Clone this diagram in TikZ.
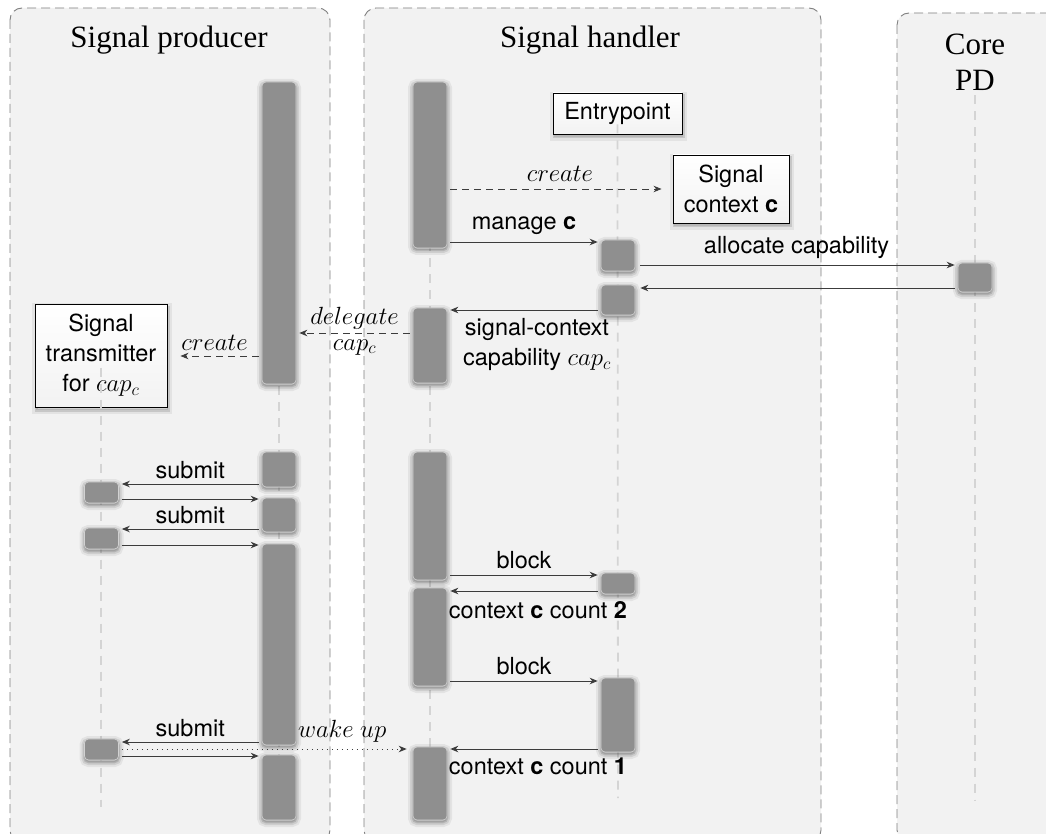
\documentclass[tikz,border=0pt]{standalone}
\usepackage{fontspec}
\setsansfont{TeX Gyre Heros}
\newfontfamily\titlefont{Liberation Serif}
\usetikzlibrary{shadows,arrows.meta,calc}

\definecolor{lanefill}{HTML}{F2F2F2}
\definecolor{laneline}{HTML}{808080}
\definecolor{barfill}{HTML}{8F8F8F}
\definecolor{arrowc}{HTML}{3C3C3C}
\definecolor{lifec}{HTML}{D4D4D4}

\tikzset{
  lane/.style={fill=lanefill, draw=laneline, dash pattern=on 9pt off 5pt, line width=0.9pt, rounded corners=12pt},
  lifeline/.style={draw=lifec, line width=1.8pt, dash pattern=on 9pt off 7pt},
  actbar/.style={rectangle, rounded corners=4pt, fill=barfill, draw=gray!35, line width=0.6pt,
     minimum width=34pt, inner sep=0pt,
     drop shadow={opacity=0.06, shadow xshift=0pt, shadow yshift=-2pt, draw=black, line width=10pt},
     drop shadow={opacity=0.09, shadow xshift=0pt, shadow yshift=-2pt, draw=black, line width=6pt},
     drop shadow={opacity=0.12, shadow xshift=0pt, shadow yshift=-2pt, draw=black, line width=2.5pt}},
  lbl/.style={font=\sffamily\fontsize{23.5}{30}\selectfont, inner sep=2pt},
  objbox/.style={lbl, rectangle, draw=black, line width=0.9pt, top color=white, bottom color=gray!10,
     align=center, inner sep=4pt,
     drop shadow={opacity=0.06, shadow xshift=1pt, shadow yshift=-3pt, draw=black, line width=8pt},
     drop shadow={opacity=0.12, shadow xshift=1pt, shadow yshift=-3pt, draw=black, line width=3pt}},
  msg/.style={draw=arrowc, line width=0.9pt, shorten <=3pt, shorten >=3pt,
     -{Stealth[length=8pt,width=6.5pt,inset=2.5pt]}},
  msgdash/.style={msg, dash pattern=on 7pt off 5pt},
  msgdot/.style={msg, dash pattern=on 1pt off 4pt},
  title/.style={font=\titlefont\fontsize{31}{36}\selectfont, align=center, inner sep=0pt},
}

\begin{document}
\begin{tikzpicture}[x=1pt,y=-1pt]
\useasboundingbox (0,0) rectangle (1046,834);
\clip (0,0) rectangle (1046,834);
\fill[white] (0,0) rectangle (1046,834);

% lanes
\draw[lane] (10,8) rectangle (330,842);
\draw[lane] (364,8) rectangle (821,842);
\draw[lane] (897,13) rectangle (1075,842);

% titles
\node[title] (tprod) at (169,40) {Signal producer};
\node[title] (thand) at (590,40) {Signal handler};
\node[title] (tcore) at (975,62) {Core\\PD};

% object boxes
\node[objbox, minimum width=129pt, minimum height=41pt] (entry) at (617.5,113.5) {Entrypoint};
\node[objbox, minimum width=116pt, minimum height=68pt] (ctx) at (731,189) {Signal\\context \textbf{c}};
\node[objbox, minimum width=132pt, minimum height=103pt] (tx) at (101,355.5) {Signal\\transmitter\\for $cap_c$};

% lifeline ends
\coordinate (lbB) at (279,808);
\coordinate (ltB) at (279,82);
\coordinate (lbC) at (430,808);
\coordinate (ltC) at (430,82);
\coordinate (lbA) at (101,807);
\coordinate (lbD) at (618,798);
\coordinate (lbE) at (975,800);

\draw[lifeline] ([yshift=-12pt]tx.center) -- (lbA);
\draw[lifeline] (ltB) -- (lbB);
\draw[lifeline] (ltC) -- (lbC);
\draw[lifeline] ([yshift=-11pt]entry.center) -- (lbD);
\draw[lifeline] ([yshift=-5pt]tcore.south) -- (lbE);

% activation bars
\node[actbar, minimum height=302pt] (B0) at (279,233) {};
\node[actbar, minimum height=35pt] (B1) at (279,469.5) {};
\node[actbar, minimum height=34pt] (B2) at (279,515) {};
\node[actbar, minimum height=201pt] (B3) at (279,644.5) {};
\node[actbar, minimum height=65pt] (B4) at (279,787.5) {};
\node[actbar, minimum height=21pt] (A1) at (101.5,492.5) {};
\node[actbar, minimum height=21pt] (A2) at (101.5,538.5) {};
\node[actbar, minimum height=21pt] (A3) at (101.5,749.5) {};
\node[actbar, minimum height=166pt] (C0) at (430,165) {};
\node[actbar, minimum height=75pt] (C1) at (430,345.5) {};
\node[actbar, minimum height=128pt] (C2) at (430,516) {};
\node[actbar, minimum height=98pt] (C3) at (430,637) {};
\node[actbar, minimum height=73pt] (C4) at (430,783.5) {};
\node[actbar, minimum height=31pt] (D1) at (618,255.5) {};
\node[actbar, minimum height=30pt] (D2) at (618,300) {};
\node[actbar, minimum height=21pt] (D3) at (618,583.5) {};
\node[actbar, minimum height=74pt] (D4) at (618,715) {};
\node[actbar, minimum height=29pt] (E1) at (975,277.5) {};

% message levels
\foreach \n/\yy in {ycr/189, ymg/242, yal/265, yrt/288, ysc/310, ydl/333, ycl/356,
  ys1/484, yr1/499, ys2/529, yr2/545, ys3/742, yr3/756, ywk/749,
  yb1/575, yc2/591, yb2/681, yc1/749}
  \coordinate (\n) at (0,\yy);

% messages
\draw[msgdash, shorten >=11pt] (C0.east |- ycr) -- node[lbl, above=5pt] {$create$} (ctx.west |- ycr);
\draw[msg] (C0.east |- ymg) -- node[lbl, above=5pt] {manage \textbf{c}} (D1.west |- ymg);
\draw[msg, shorten <=5pt] (D1.east |- yal) -- node[lbl, above=4pt] {allocate capability} (E1.west |- yal);
\draw[msg, shorten >=5pt] (E1.west |- yrt) -- (D2.east |- yrt);
\draw[msg] (D2.west |- ysc) -- node[lbl, below=6pt, xshift=13pt, align=center] {signal-context\\capability $cap_c$} (C1.east |- ysc);
\draw[msgdash] (C1.west |- ydl) -- node[lbl, above=1pt] {$delegate$} node[lbl, below=4pt] {$cap_c$} (B0.east |- ydl);
\draw[msgdash, shorten >=13pt] (B0.west |- ycl) -- node[lbl, above=3pt] {$create$} (tx.east |- ycl);

\draw[msg] (B1.west |- ys1) -- node[lbl, above=3pt] {submit} (A1.east |- ys1);
\draw[msg] (A1.east |- yr1) -- (B2.west |- yr1);
\draw[msg] (B2.west |- ys2) -- node[lbl, above=3pt] {submit} (A2.east |- ys2);
\draw[msg] (A2.east |- yr2) -- (B3.west |- yr2);
\draw[msg] (B3.west |- ys3) -- node[lbl, above=3pt] {submit} (A3.east |- ys3);
\draw[msg] (A3.east |- yr3) -- (B4.west |- yr3);
\draw[msgdot, shorten >=6pt] (A3.east |- ywk) -- node[lbl, above=4pt, pos=0.76] {$wake\ up$} (C4.west |- ywk);

\draw[msg] (C2.east |- yb1) -- node[lbl, above=4pt] {block} (D3.west |- yb1);
\draw[msg] (D3.west |- yc2) -- node[lbl, below=8pt, xshift=14pt] {context \textbf{c} count \textbf{2}} (C3.east |- yc2);
\draw[msg] (C3.east |- yb2) -- node[lbl, above=4pt] {block} (D4.west |- yb2);
\draw[msg] (D4.west |- yc1) -- node[lbl, below=6pt, xshift=14pt] {context \textbf{c} count \textbf{1}} (C4.east |- yc1);
\end{tikzpicture}
\end{document}
